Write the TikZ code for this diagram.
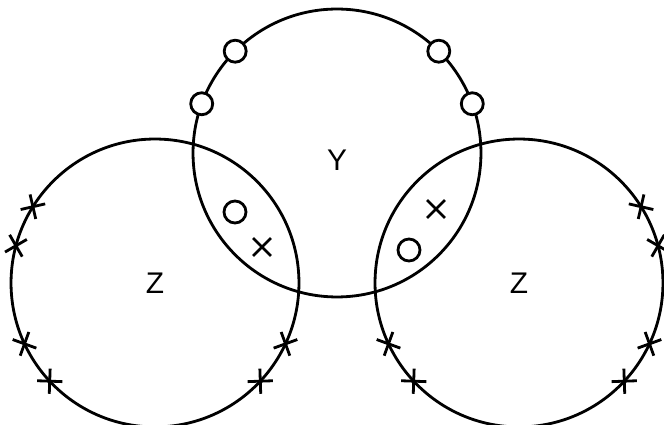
\documentclass[tikz,border=0pt]{standalone}
\usepackage{fontspec}
\setmainfont{Liberation Sans}
\usetikzlibrary{shapes.misc}

\begin{document}
\begin{tikzpicture}[x=0.02cm, y=-0.02cm, line width=1.6pt]

\tikzset{
  set/.style={
    circle, draw, inner sep=0pt, outer sep=0pt,
    minimum size=5.76cm
  },
  lab/.style={font=\fontsize{17}{19}\selectfont},
  ring/.style={
    circle, draw, fill=white, inner sep=0pt, minimum size=0.44cm
  },
  tick/.style={
    cross out, draw, inner sep=0pt, minimum size=0.3cm, rotate=#1
  },
  tick/.default=0
}

\useasboundingbox (0,0) rectangle (664,425);

% les trois ensembles
\node[set] (Y) at (337,153) {};
\node[set] (Zl) at (155,283) {};
\node[set] (Zr) at (519,283) {};

\node[lab] (labY) at (337,160) {Y};
\node[lab] (labZl) at (155,283) {Z};
\node[lab] (labZr) at (519,283) {Z};

% cercles sur Y
\foreach \a/\n in {135/a, 160/b, 45/c, 20/d}
  \node[ring] (y\n) at (Y.\a) {};

% croix sur les Z
\foreach \a/\n in {148/a, 165/b, 205/c, 223/d, 335/e, 317/f}
  \node[tick=\a] (zl\n) at (Zl.\a) {};
\foreach \a/\n in {32/a, 15/b, 335/c, 317/d, 205/e, 223/f}
  \node[tick=\a] (zr\n) at (Zr.\a) {};

% dans les intersections
\node[ring] (lensl1) at (235,212) {};
\node[tick] (lensl2) at (262,247) {};
\node[tick] (lensr1) at (436,209) {};
\node[ring] (lensr2) at (409,250) {};

\end{tikzpicture}
\end{document}
